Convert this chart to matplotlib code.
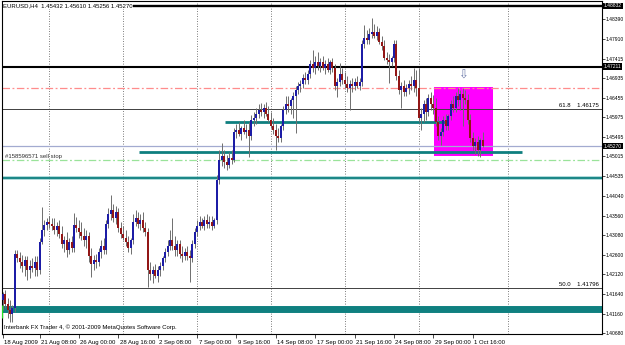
import numpy as np
import matplotlib.pyplot as plt
from matplotlib import transforms

plt.rcParams['font.family'] = ['Liberation Sans', 'DejaVu Sans']

# EURUSD H4 bars, 18 Aug 2009 20:00 .. 2 Oct 2009 08:00
open_first = 1.4149
closes = [
    1.4164, 1.4139, 1.4125, 1.4115, 1.4130, 1.4262, 1.4252, 1.4242, 1.4233, 1.4247,
    1.4223, 1.4233, 1.4228, 1.4242, 1.4223, 1.4292, 1.4321, 1.4333, 1.4341, 1.4336,
    1.4331, 1.4321, 1.4331, 1.4311, 1.4287, 1.4297, 1.4272, 1.4292, 1.4277, 1.4333,
    1.4326, 1.4316, 1.4306, 1.4297, 1.4306, 1.4257, 1.4238, 1.4247, 1.4242, 1.4267,
    1.4282, 1.4272, 1.4336, 1.4360, 1.4370, 1.4351, 1.4365, 1.4326, 1.4311, 1.4301,
    1.4292, 1.4277, 1.4297, 1.4341, 1.4351, 1.4336, 1.4346, 1.4326, 1.4316, 1.4223,
    1.4213, 1.4223, 1.4208, 1.4223, 1.4233, 1.4252, 1.4267, 1.4282, 1.4297, 1.4282,
    1.4272, 1.4287, 1.4262, 1.4257, 1.4267, 1.4257, 1.4252, 1.4287, 1.4316, 1.4331,
    1.4341, 1.4331, 1.4346, 1.4336, 1.4341, 1.4331, 1.4346, 1.4444, 1.4493, 1.4503,
    1.4488, 1.4481, 1.4498, 1.4493, 1.4561, 1.4567, 1.4557, 1.4571, 1.4561, 1.4567,
    1.4552, 1.4591, 1.4596, 1.4606, 1.4616, 1.4611, 1.4621, 1.4606, 1.4591, 1.4576,
    1.4567, 1.4552, 1.4547, 1.4576, 1.4616, 1.4630, 1.4625, 1.4640, 1.4650, 1.4665,
    1.4675, 1.4679, 1.4694, 1.4689, 1.4704, 1.4729, 1.4719, 1.4733, 1.4724, 1.4733,
    1.4719, 1.4729, 1.4714, 1.4733, 1.4719, 1.4675, 1.4684, 1.4704, 1.4689, 1.4679,
    1.4670, 1.4679, 1.4675, 1.4684, 1.4675, 1.4684, 1.4778, 1.4792, 1.4787, 1.4802,
    1.4807, 1.4797, 1.4807, 1.4783, 1.4773, 1.4743, 1.4738, 1.4733, 1.4743, 1.4778,
    1.4699, 1.4665, 1.4675, 1.4660, 1.4670, 1.4679, 1.4675, 1.4689, 1.4670, 1.4596,
    1.4606, 1.4630, 1.4611, 1.4645, 1.4630, 1.4621, 1.4586, 1.4552, 1.4561, 1.4591,
    1.4576, 1.4601, 1.4630, 1.4621, 1.4650, 1.4640, 1.4655, 1.4645, 1.4640, 1.4591,
    1.4547, 1.4527, 1.4537, 1.4517, 1.4543, 1.4527,
]
highs = [
    1.4169, 1.4174, 1.4154, 1.4149, 1.4137, 1.4272, 1.4272, 1.4267, 1.4260, 1.4257,
    1.4257, 1.4247, 1.4252, 1.4257, 1.4257, 1.4301, 1.4378, 1.4346, 1.4351, 1.4355,
    1.4351, 1.4351, 1.4341, 1.4346, 1.4331, 1.4306, 1.4316, 1.4301, 1.4306, 1.4363,
    1.4353, 1.4346, 1.4341, 1.4326, 1.4321, 1.4316, 1.4277, 1.4260, 1.4262, 1.4277,
    1.4297, 1.4301, 1.4346, 1.4375, 1.4407, 1.4385, 1.4380, 1.4375, 1.4341, 1.4331,
    1.4321, 1.4306, 1.4301, 1.4360, 1.4370, 1.4365, 1.4360, 1.4365, 1.4341, 1.4326,
    1.4242, 1.4233, 1.4238, 1.4233, 1.4242, 1.4257, 1.4277, 1.4297, 1.4321, 1.4351,
    1.4306, 1.4297, 1.4297, 1.4282, 1.4277, 1.4282, 1.4272, 1.4297, 1.4326, 1.4346,
    1.4355, 1.4351, 1.4355, 1.4360, 1.4355, 1.4355, 1.4351, 1.4456, 1.4517, 1.4535,
    1.4517, 1.4505, 1.4513, 1.4517, 1.4571, 1.4581, 1.4586, 1.4576, 1.4591, 1.4581,
    1.4586, 1.4603, 1.4611, 1.4621, 1.4630, 1.4633, 1.4630, 1.4635, 1.4625, 1.4611,
    1.4596, 1.4581, 1.4571, 1.4581, 1.4625, 1.4650, 1.4650, 1.4645, 1.4660, 1.4675,
    1.4684, 1.4689, 1.4704, 1.4709, 1.4714, 1.4738, 1.4763, 1.4748, 1.4758, 1.4743,
    1.4748, 1.4738, 1.4743, 1.4738, 1.4743, 1.4729, 1.4694, 1.4731, 1.4719, 1.4709,
    1.4699, 1.4689, 1.4694, 1.4694, 1.4699, 1.4694, 1.4787, 1.4824, 1.4812, 1.4817,
    1.4842, 1.4827, 1.4822, 1.4817, 1.4797, 1.4787, 1.4758, 1.4753, 1.4748, 1.4787,
    1.4787, 1.4714, 1.4684, 1.4689, 1.4679, 1.4689, 1.4699, 1.4719, 1.4714, 1.4719,
    1.4621, 1.4640, 1.4645, 1.4655, 1.4660, 1.4652, 1.4645, 1.4601, 1.4571, 1.4601,
    1.4606, 1.4606, 1.4640, 1.4650, 1.4660, 1.4670, 1.4665, 1.4670, 1.4665, 1.4655,
    1.4606, 1.4561, 1.4547, 1.4552, 1.4547, 1.4561,
]
lows = [
    1.4125, 1.4130, 1.4105, 1.4095, 1.4095, 1.4120, 1.4242, 1.4228, 1.4218, 1.4208,
    1.4198, 1.4203, 1.4218, 1.4208, 1.4208, 1.4213, 1.4287, 1.4306, 1.4321, 1.4326,
    1.4321, 1.4311, 1.4306, 1.4301, 1.4277, 1.4267, 1.4255, 1.4262, 1.4267, 1.4267,
    1.4316, 1.4301, 1.4297, 1.4282, 1.4277, 1.4242, 1.4206, 1.4223, 1.4228, 1.4233,
    1.4252, 1.4262, 1.4262, 1.4326, 1.4346, 1.4341, 1.4336, 1.4316, 1.4301, 1.4297,
    1.4282, 1.4267, 1.4262, 1.4287, 1.4331, 1.4326, 1.4321, 1.4316, 1.4306, 1.4181,
    1.4198, 1.4191, 1.4203, 1.4193, 1.4208, 1.4223, 1.4242, 1.4257, 1.4272, 1.4272,
    1.4257, 1.4257, 1.4252, 1.4242, 1.4247, 1.4247, 1.4193, 1.4242, 1.4277, 1.4306,
    1.4321, 1.4326, 1.4321, 1.4326, 1.4326, 1.4321, 1.4326, 1.4336, 1.4434, 1.4478,
    1.4473, 1.4468, 1.4473, 1.4483, 1.4488, 1.4547, 1.4552, 1.4542, 1.4557, 1.4547,
    1.4500, 1.4542, 1.4576, 1.4581, 1.4596, 1.4601, 1.4596, 1.4601, 1.4586, 1.4571,
    1.4557, 1.4517, 1.4537, 1.4537, 1.4567, 1.4606, 1.4611, 1.4606, 1.4596, 1.4559,
    1.4655, 1.4660, 1.4670, 1.4679, 1.4679, 1.4694, 1.4709, 1.4704, 1.4714, 1.4709,
    1.4714, 1.4704, 1.4709, 1.4704, 1.4709, 1.4665, 1.4648, 1.4675, 1.4679, 1.4670,
    1.4660, 1.4616, 1.4660, 1.4665, 1.4670, 1.4665, 1.4675, 1.4768, 1.4778, 1.4778,
    1.4792, 1.4792, 1.4787, 1.4778, 1.4763, 1.4738, 1.4729, 1.4682, 1.4724, 1.4733,
    1.4689, 1.4655, 1.4621, 1.4650, 1.4650, 1.4655, 1.4665, 1.4660, 1.4650, 1.4586,
    1.4567, 1.4586, 1.4591, 1.4601, 1.4616, 1.4606, 1.4576, 1.4542, 1.4530, 1.4552,
    1.4567, 1.4567, 1.4591, 1.4611, 1.4611, 1.4625, 1.4616, 1.4576, 1.4630, 1.4581,
    1.4537, 1.4517, 1.4508, 1.4503, 1.4500, 1.4526,
]

date_bars = [0, 15, 31, 47, 63, 79, 95, 111, 127, 143, 159, 175, 191]
date_labels = ['18 Aug 2009', '21 Aug 08:00', '26 Aug 00:00', '28 Aug 16:00', '2 Sep 08:00',
               '7 Sep 00:00', '9 Sep 16:00', '14 Sep 08:00', '17 Sep 00:00', '21 Sep 16:00',
               '24 Sep 08:00', '29 Sep 00:00', '1 Oct 16:00']
week_bars = [19, 49, 79, 109, 139, 169, 205.5]
price_ticks = [1.48390, 1.47910, 1.47415, 1.46935, 1.46455, 1.45975, 1.45495, 1.45015,
               1.44535, 1.44040, 1.43560, 1.43080, 1.42600, 1.42120, 1.41640, 1.41160, 1.40680]

title = 'EURUSD,H4  1.45432 1.45610 1.45256 1.45270'
top_line, top_label = 1.4871, '1.48832'
resist_line, resist_label = 1.4722, '1.47211'
bid, bid_label = 1.45270, '1.45270'
pink_line = 1.4670
fib_618, fib_50 = 1.46175, 1.41796
sell_stop = 1.4493
teal_short = (1.4586, 90.4, 179.8)
teal_mid = (1.4513, 55.5, 211.2)
teal_full = 1.4449
teal_band = 1.4128
box = (175.4, 199.4, 1.4503, 1.4672)

closes = np.array(closes)
highs = np.array(highs)
lows = np.array(lows)
opens = np.r_[open_first, closes[:-1]]
idx = np.arange(len(closes))
up = closes >= opens

fig = plt.figure(figsize=(6.25, 3.45), dpi=100)
ax = fig.add_axes([2 / 625, 11 / 345, 600 / 625, 333 / 345])
ax.set_xlim(-0.244, 243.5)
ax.set_ylim(1.40657, 1.48832)

fs = 4.3
fs_scale = 3.6
for w in week_bars:
    ax.axvline(w, color='#505050', lw=0.6, ls=(0, (1, 2)), zorder=0.5)

ax.fill_between([box[0], box[1]], box[2], box[3], color='#FF00FF', lw=0, zorder=1)

ax.axhline(top_line, color='black', lw=1.7, zorder=2)
ax.axhline(resist_line, color='black', lw=1.5, zorder=2)
ax.axhline(pink_line, color='#FF8C8C', lw=0.9, ls=(0, (6, 2, 1.5, 2)), zorder=2)
ax.axhline(fib_618, color='#404040', lw=0.7, zorder=2)
ax.axhline(fib_50, color='#404040', lw=0.7, zorder=2)
ax.hlines(teal_short[0], teal_short[1], teal_short[2], color='#0E7F7F', lw=2.0, zorder=2)
ax.axhline(bid, color='#A3ABD0', lw=0.9, zorder=2)
ax.hlines(teal_mid[0], teal_mid[1], teal_mid[2], color='#0E7F7F', lw=2.0, zorder=2)
ax.axhline(sell_stop, color='#9AE39A', lw=0.9, ls=(0, (6, 2, 1.5, 2)), zorder=2)
ax.axhline(teal_full, color='#9ED3D3', lw=2.6, zorder=2)
ax.axhline(teal_full, color='#1A8585', lw=1.4, zorder=2)
ax.axhline(teal_band, color='#0F8080', lw=5.0, zorder=2)
ax.vlines(-0.1, 1.4105, 1.4137, color='#22DD22', lw=1.0, zorder=4)

# candles
ax.vlines(idx, lows, highs, color='#6E6E6E', lw=0.7, zorder=3)
body_lo = np.minimum(opens, closes)
body_h = np.maximum(np.abs(closes - opens), 0.00005)
ax.bar(idx, body_h, bottom=body_lo, width=0.8,
       color=np.where(up, '#1C1CA6', '#921616'), edgecolor='none', zorder=3.5)

# annotations
ax.text(187.2, 1.4702, '\u21e9', ha='center', va='center', fontsize=8.5,
        color='#6A78A8', family='DejaVu Sans', zorder=5)
ax.text(1.0, 1.4495, '#158596571 sell stop', fontsize=fs, color='#303030', va='bottom', zorder=5)
ax.text(242.3, fib_618 + 0.0002, '61.8    1.46175', fontsize=fs, ha='right', va='bottom', zorder=5)
ax.text(242.3, fib_50 + 0.0002, '50.0    1.41796', fontsize=fs, ha='right', va='bottom', zorder=5)
ax.text(0.5, 1.4083, 'Interbank FX Trader 4, \u00a9 2001-2009 MetaQuotes Software Corp.',
        fontsize=fs, va='center', zorder=5)
fig.text(3 / 625, 1 - 6 / 345, title, fontsize=fs, va='center',
         bbox=dict(fc='white', ec='none', pad=0.3), zorder=6)

# right price scale
ax.yaxis.tick_right()
ax.set_yticks(price_ticks)
ax.set_yticklabels(['%.5f' % p for p in price_ticks])
ax.tick_params(axis='y', length=2, width=0.5, labelsize=fs_scale, pad=0.8)
trans = transforms.blended_transform_factory(ax.transAxes, ax.transData)
for lvl, lab in [(top_line, top_label), (resist_line, resist_label), (bid, bid_label)]:
    ax.text(1.0035, lvl, lab, transform=trans, fontsize=fs_scale, color='white', va='center',
            ha='left', bbox=dict(fc='black', ec='none', pad=0.5), clip_on=False, zorder=6)

# time scale
ax.set_xticks(date_bars)
ax.set_xticklabels(date_labels, ha='left')
ax.tick_params(axis='x', length=3, width=0.5, labelsize=fs, pad=1)
offset = transforms.ScaledTranslation(1.5 / 100, 0, fig.dpi_scale_trans)
for lab in ax.get_xticklabels():
    lab.set_transform(lab.get_transform() + offset)

for s in ax.spines.values():
    s.set_linewidth(0.8)

fig.savefig('out.png', dpi=100)
